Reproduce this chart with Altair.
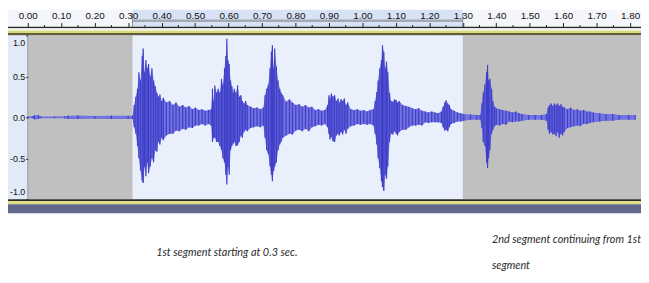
import altair as alt
import pandas as pd

# ---------------- data ----------------
time_s = [
    0.000, 0.015, 0.020, 0.032, 0.040, 0.080, 0.110, 0.120, 0.150, 0.200, 0.250, 0.300, 0.313,
    0.318, 0.323, 0.328, 0.332, 0.337, 0.342, 0.345, 0.349, 0.353, 0.357,
    0.361, 0.366, 0.371, 0.376, 0.381, 0.386, 0.390, 0.395, 0.400, 0.405,
    0.414, 0.424, 0.434, 0.443, 0.453, 0.463, 0.472, 0.482, 0.492, 0.501,
    0.511, 0.521, 0.530, 0.540, 0.548, 0.552, 0.556,
    0.559, 0.564, 0.569, 0.574, 0.579, 0.583, 0.588, 0.592, 0.595, 0.598,
    0.602, 0.606, 0.610, 0.614, 0.617, 0.622, 0.627, 0.632, 0.637, 0.641,
    0.646, 0.651, 0.656, 0.666, 0.675, 0.685, 0.695, 0.704, 0.709, 0.714,
    0.719, 0.724, 0.728, 0.731, 0.735, 0.738, 0.743, 0.748, 0.753, 0.757,
    0.762, 0.772, 0.782, 0.791, 0.801, 0.811,
    0.820, 0.830, 0.840, 0.849, 0.859, 0.869, 0.878, 0.888, 0.896, 0.900,
    0.903, 0.907, 0.912, 0.917, 0.922, 0.927, 0.931, 0.936, 0.941, 0.946,
    0.951, 0.956, 0.965, 0.975, 0.985, 0.994, 1.004, 1.014, 1.023, 1.033,
    1.038, 1.043, 1.047, 1.052, 1.057, 1.060, 1.064, 1.068, 1.072, 1.076,
    1.081, 1.086, 1.091, 1.096, 1.101, 1.105, 1.110, 1.120, 1.130, 1.139,
    1.149, 1.159, 1.168, 1.178, 1.188, 1.197, 1.207, 1.217, 1.226, 1.236,
    1.241, 1.246, 1.250, 1.255, 1.260, 1.265, 1.274, 1.284, 1.294, 1.303,
    1.323, 1.342,
    1.352, 1.357, 1.361, 1.366, 1.371, 1.374, 1.377, 1.381, 1.386, 1.390,
    1.395, 1.400, 1.410, 1.419, 1.429, 1.439, 1.448, 1.458, 1.468, 1.477,
    1.497, 1.516, 1.535, 1.550, 1.555, 1.559, 1.564, 1.569, 1.574,
    1.579, 1.584, 1.588, 1.593, 1.598, 1.603, 1.613, 1.622, 1.632, 1.642,
    1.651, 1.661, 1.671, 1.680, 1.690, 1.709, 1.728, 1.748, 1.767, 1.796,
    1.815,
]
peak_max = [
    0.010, 0.012, 0.025, 0.025, 0.010, 0.010, 0.012, 0.020, 0.022, 0.018, 0.020, 0.020, 0.020,
    0.15, 0.25, 0.35, 0.55, 0.45, 0.75, 0.84, 0.55, 0.70, 0.60,
    0.65, 0.50, 0.60, 0.45, 0.38, 0.30, 0.25, 0.28, 0.20, 0.24,
    0.18, 0.20, 0.15, 0.18, 0.13, 0.15, 0.12, 0.14, 0.10, 0.12,
    0.09, 0.10, 0.08, 0.09, 0.10, 0.35, 0.20,
    0.39, 0.30, 0.35, 0.30, 0.47, 0.40, 0.60, 0.75, 0.96, 0.70,
    0.65, 0.45, 0.38, 0.30, 0.35, 0.30, 0.39, 0.25, 0.27, 0.20,
    0.17, 0.20, 0.15, 0.13, 0.11, 0.12, 0.10, 0.12, 0.27, 0.35,
    0.40, 0.60, 0.80, 0.88, 0.60, 0.84, 0.62, 0.45, 0.35, 0.30,
    0.27, 0.19, 0.22, 0.18, 0.15, 0.16,
    0.13, 0.15, 0.12, 0.13, 0.09, 0.10, 0.08, 0.09, 0.15, 0.27,
    0.22, 0.29, 0.25, 0.27, 0.20, 0.23, 0.18, 0.22, 0.20, 0.23,
    0.15, 0.18, 0.10, 0.09, 0.10, 0.08, 0.09, 0.07, 0.09, 0.10,
    0.20, 0.31, 0.45, 0.60, 0.70, 0.88, 0.80, 0.60, 0.68, 0.55,
    0.30, 0.20, 0.19, 0.22, 0.21, 0.18, 0.20, 0.15, 0.14, 0.13,
    0.11, 0.10, 0.11, 0.08, 0.07, 0.06, 0.07, 0.06, 0.05, 0.07,
    0.13, 0.18, 0.21, 0.17, 0.15, 0.10, 0.08, 0.06, 0.05, 0.04,
    0.035, 0.03,
    0.03, 0.17, 0.30, 0.40, 0.55, 0.64, 0.45, 0.47, 0.35, 0.20,
    0.13, 0.11, 0.10, 0.09, 0.08, 0.07, 0.06, 0.07, 0.05, 0.04,
    0.03, 0.03, 0.03, 0.04, 0.12, 0.15, 0.17, 0.14, 0.17,
    0.15, 0.17, 0.14, 0.16, 0.13, 0.12, 0.10, 0.12, 0.09, 0.10,
    0.08, 0.09, 0.07, 0.07, 0.06, 0.05, 0.04, 0.04, 0.03, 0.03,
    0.03,
]
peak_min = [
    -0.010, -0.012, -0.025, -0.020, -0.010, -0.010, -0.012, -0.020, -0.020, -0.018, -0.020, -0.020, -0.020,
    -0.12, -0.20, -0.35, -0.50, -0.65, -0.78, -0.80, -0.60, -0.72, -0.55,
    -0.68, -0.60, -0.50, -0.55, -0.40, -0.42, -0.30, -0.33, -0.25, -0.28,
    -0.22, -0.20, -0.20, -0.16, -0.17, -0.14, -0.15, -0.12, -0.13, -0.10,
    -0.10, -0.08, -0.10, -0.08, -0.10, -0.30, -0.25,
    -0.25, -0.30, -0.30, -0.35, -0.40, -0.50, -0.55, -0.70, -0.82, -0.60,
    -0.70, -0.40, -0.35, -0.32, -0.30, -0.35, -0.34, -0.30, -0.22, -0.25,
    -0.18, -0.15, -0.17, -0.13, -0.12, -0.11, -0.12, -0.10, -0.25, -0.40,
    -0.45, -0.60, -0.70, -0.78, -0.65, -0.60, -0.55, -0.40, -0.33, -0.30,
    -0.25, -0.22, -0.20, -0.21, -0.16, -0.15,
    -0.17, -0.14, -0.17, -0.12, -0.11, -0.09, -0.10, -0.08, -0.12, -0.20,
    -0.27, -0.24, -0.29, -0.30, -0.22, -0.20, -0.22, -0.18, -0.21, -0.15,
    -0.20, -0.14, -0.11, -0.10, -0.08, -0.09, -0.08, -0.09, -0.08, -0.10,
    -0.20, -0.33, -0.50, -0.62, -0.78, -0.85, -0.90, -0.70, -0.75, -0.60,
    -0.30, -0.20, -0.21, -0.17, -0.20, -0.22, -0.18, -0.15, -0.15, -0.12,
    -0.10, -0.10, -0.09, -0.10, -0.06, -0.07, -0.06, -0.06, -0.06, -0.07,
    -0.12, -0.16, -0.15, -0.17, -0.12, -0.08, -0.07, -0.05, -0.05, -0.04,
    -0.03, -0.03,
    -0.03, -0.13, -0.30, -0.35, -0.55, -0.62, -0.50, -0.40, -0.20, -0.15,
    -0.11, -0.09, -0.10, -0.08, -0.09, -0.05, -0.06, -0.05, -0.05, -0.04,
    -0.03, -0.03, -0.03, -0.04, -0.15, -0.20, -0.18, -0.21, -0.20,
    -0.23, -0.18, -0.25, -0.20, -0.22, -0.18, -0.13, -0.12, -0.11, -0.10,
    -0.11, -0.08, -0.08, -0.07, -0.06, -0.05, -0.04, -0.04, -0.03, -0.03,
    -0.03,
]
assert len(time_s) == len(peak_max) == len(peak_min)

ruler_major = [0.0, 0.1, 0.2, 0.3, 0.4, 0.5, 0.6, 0.7, 0.8, 0.9,
               1.0, 1.1, 1.2, 1.3, 1.4, 1.5, 1.6, 1.7, 1.8]
ruler_minor = [0.05, 0.15, 0.25, 0.35, 0.45, 0.55, 0.65, 0.75, 0.85,
               0.95, 1.05, 1.15, 1.25, 1.35, 1.45, 1.55, 1.65, 1.75]
amp_ticks = [-1.0, -0.5, 0.0, 0.5, 1.0]
sel_start = 0.313
sel_end = 1.30
caption_1 = "1st segment starting at 0.3 sec."
caption_2a = "2nd segment continuing from 1st"
caption_2b = "segment"

# ---------------- chart ----------------
W, H = 641, 275
X0 = 20  # left edge of the track (after the amplitude label column)
AXFONT = "Liberation Sans, Arial, sans-serif"
CAPFONT = "Lato"

wave = pd.DataFrame({"t": time_s, "hi": peak_max, "lo": peak_min})
one = pd.DataFrame({"k": [0]})
sel = pd.DataFrame({"s": [sel_start], "e": [sel_end]})
minor = pd.DataFrame({"t": ruler_minor})

xs = alt.Scale(domain=[0, 1.8], range=[X0, 630], nice=False, zero=False)
ys = alt.Scale(domain=[-1, 1], range=[192, 26], nice=False, zero=False)

ax_x = alt.Axis(orient="top", offset=-18, values=ruler_major, format=".2f",
                tickSize=5, tickColor="#222222", tickWidth=1, domain=False, grid=False,
                labelPadding=4, labelBaseline="alphabetic", labelFontSize=10,
                labelFont=AXFONT, labelColor="#111111", zindex=2,
                labelFlush=False, labelOverlap=False, title=None)
ax_y = alt.Axis(orient="left", offset=-X0, values=amp_ticks,
                labelExpr="(datum.value < 0 ? '-' : '') + format(abs(datum.value), '.1f')",
                tickSize=2, tickColor="#222222", domain=False, grid=False,
                labelPadding=1, labelFontSize=9, labelFont=AXFONT, labelColor="#111111",
                labelFlush=True, labelFlushOffset=-3, title=None, zindex=2)


def band(y1, y2, color, x1=0, x2=W):
    return alt.Chart(one).mark_rect(color=color).encode(
        x=alt.value(x1), x2=alt.value(x2), y=alt.value(y1), y2=alt.value(y2))


ruler_bg = band(0, 19, "#F4F6FB")
ruler_sel = alt.Chart(sel).mark_rect(color="#D7E2F5").encode(
    x=alt.X("s:Q", scale=xs, axis=ax_x), x2="e:Q",
    y=alt.value(0), y2=alt.value(19))
ruler_bar = alt.Chart(sel).mark_rect(color="#A4A8B2").encode(
    x=alt.X("s:Q", scale=xs, axis=ax_x), x2="e:Q",
    y=alt.value(10), y2=alt.value(12.5))
sel_edges = alt.Chart(pd.DataFrame({"t": [sel_start, sel_end]})).mark_rule(
    color="#8A8E98", strokeWidth=1).encode(
    x=alt.X("t:Q", scale=xs, axis=ax_x), y=alt.value(4), y2=alt.value(18))
minor_ticks = alt.Chart(minor).mark_rule(color="#222222", strokeWidth=1).encode(
    x=alt.X("t:Q", scale=xs, axis=ax_x), y=alt.value(15.5), y2=alt.value(18))

ruler_line = band(17.3, 18.8, "#2A2A2A")
gap_line = band(18.8, 21.3, "#EEF0E8")
yellow_top = band(21.3, 23.5, "#D9D97A")
dark_top = band(23.5, 26, "#5E5E3E")

track_grey = band(26, 192, "#C0C0C0", X0, W)
label_col = band(26, 192, "#E3EAF7", 0, X0)
col_border = band(26, 192, "#9A9AA0", X0 - 0.5, X0 + 0.5)
track_sel = alt.Chart(sel).mark_rect(color="#E9EFFB").encode(
    x=alt.X("s:Q", scale=xs, axis=ax_x), x2="e:Q",
    y=alt.value(26), y2=alt.value(192))

waveform = alt.Chart(wave).mark_area(color="#7272E0", opacity=1, interpolate="linear").encode(
    x=alt.X("t:Q", scale=xs, axis=ax_x),
    y=alt.Y("hi:Q", scale=ys, axis=ax_y),
    y2="lo:Q")
wave_lines = alt.Chart(wave).mark_rule(color="#3E3EC8", strokeWidth=1.2).encode(
    x=alt.X("t:Q", scale=xs, axis=ax_x),
    y=alt.Y("hi:Q", scale=ys, axis=ax_y),
    y2="lo:Q")

bottom_dark = band(192, 193.7, "#2A2A2A")
bottom_yellow = band(193.7, 197, "#E0E084")
bottom_slate = band(197, 206, "#626889")

text_style = dict(font=CAPFONT, fontStyle="italic", fontSize=11, align="left",
                  baseline="middle", color="#2B2B2B")
cap1 = alt.Chart(one).mark_text(**text_style).encode(
    x=alt.value(150), y=alt.value(246), text=alt.value(caption_1))
cap2a = alt.Chart(one).mark_text(**text_style).encode(
    x=alt.value(490), y=alt.value(233), text=alt.value(caption_2a))
cap2b = alt.Chart(one).mark_text(**text_style).encode(
    x=alt.value(490), y=alt.value(260), text=alt.value(caption_2b))

chart = alt.layer(
    ruler_bg, ruler_sel, ruler_bar, sel_edges, minor_ticks,
    ruler_line, gap_line, yellow_top, dark_top,
    track_grey, label_col, col_border, track_sel,
    waveform, wave_lines,
    bottom_dark, bottom_yellow, bottom_slate,
    cap1, cap2a, cap2b,
).properties(
    width=W, height=H,
    autosize=alt.AutoSizeParams(type="none"),
    padding=0,
    background="white",
).configure_view(strokeWidth=0)

chart.save("out.html", embed_options={"renderer": "svg", "actions": False})
